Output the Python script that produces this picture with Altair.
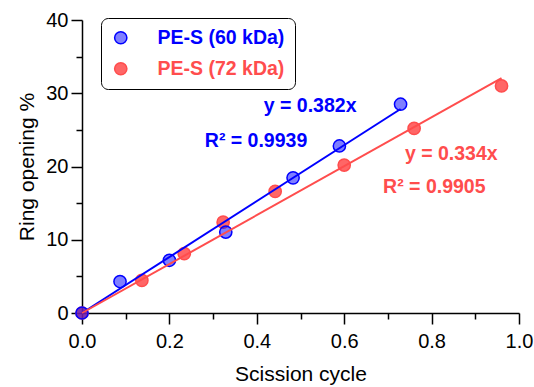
import altair as alt
import pandas as pd

# Series names (legend order)
series_names = ["PE-S (60 kDa)", "PE-S (72 kDa)"]

# Ring opening (%) versus scission cycle
cycles_60 = [0.0, 0.087, 0.200, 0.329, 0.483, 0.589, 0.729]
opening_60 = [0.0, 4.3, 7.2, 11.05, 18.45, 22.8, 28.5]
cycles_72 = [0.0, 0.137, 0.234, 0.323, 0.442, 0.600, 0.760, 0.960]
opening_72 = [0.0, 4.45, 8.1, 12.4, 16.6, 20.2, 25.2, 31.0]

# Linear fits through the origin (y as a fraction), with their R^2
slopes = [0.382, 0.334]
r_squared = [0.9939, 0.9905]

# Axis ticks
x_ticks = [0.0, 0.2, 0.4, 0.6, 0.8, 1.0]
x_minor = [0.1, 0.3, 0.5, 0.7, 0.9]
y_ticks = [0, 10, 20, 30, 40]
y_minor = [5, 15, 25, 35]

# Styling
FONT = "Liberation Sans"
solid = ["#0000ff", "#ff4d4d"]
fills = ["rgba(0,0,255,0.5)", "rgba(255,64,64,0.8)"]

# Where the fit equations sit (data coordinates)
eq_pos = [(0.416, 27.5), (0.739, 20.9)]
r2_pos = [(0.281, 22.6), (0.689, 16.4)]

# ---- tables -------------------------------------------------------------
# 72 kDa rows first so the 60 kDa markers are drawn on top
points = pd.DataFrame({
    "series": [series_names[1]] * len(cycles_72) + [series_names[0]] * len(cycles_60),
    "cycle": cycles_72 + cycles_60,
    "opening": opening_72 + opening_60,
})

fit_rows = []
for name, slope, xs in zip(series_names, slopes, [cycles_60, cycles_72]):
    for xv in (0.0, max(xs)):
        fit_rows.append({"series": name, "cycle": xv, "opening": slope * 100 * xv})
fits = pd.DataFrame(fit_rows)

label_rows = []
for i, name in enumerate(series_names):
    label_rows.append({"series": name, "text": f"y = {slopes[i]}x",
                       "cycle": eq_pos[i][0], "opening": eq_pos[i][1]})
    label_rows.append({"series": name, "text": f"R\u00b2 = {r_squared[i]}",
                       "cycle": r2_pos[i][0], "opening": r2_pos[i][1]})
labels = pd.DataFrame(label_rows)

# ---- scales, axes, legend ----------------------------------------------
x_scale = alt.Scale(domain=[0, 1], nice=False, zero=False)
y_scale = alt.Scale(domain=[0, 40], nice=False, zero=False)

axis_common = dict(
    domainColor="black", domainWidth=1.5, tickColor="black", tickWidth=1.5,
    labelFont=FONT, labelFontSize=20, labelColor="black",
    titleFont=FONT, titleFontSize=21, titleFontWeight="normal", titleColor="black",
    grid=False,
)
x_axis = alt.Axis(values=x_ticks, format=".1f", tickSize=11, labelPadding=7,
                  title="Scission cycle", titlePadding=12, orient="bottom",
                  labelFlush=False, **axis_common)
y_axis = alt.Axis(values=y_ticks, format="d", tickSize=11, labelPadding=3,
                  title="Ring opening %", titlePadding=8, orient="left",
                  labelFlush=False, **axis_common)
x_axis_minor = alt.Axis(values=x_minor, tickSize=6, labels=False, domain=False,
                        title=None, orient="bottom", grid=False,
                        tickColor="black", tickWidth=1.5)
y_axis_minor = alt.Axis(values=y_minor, tickSize=6, labels=False, domain=False,
                        title=None, orient="left", grid=False,
                        tickColor="black", tickWidth=1.5)

legend = alt.Legend(
    title=None, orient="none", legendX=19, legendY=-2,
    strokeColor="black", fillColor="white", cornerRadius=7, padding=10,
    symbolType="circle", symbolSize=150, symbolStrokeWidth=1.5,
    labelFont=FONT, labelFontSize=19.5, labelFontWeight="bold", labelOffset=27,
    labelColor=alt.ExprRef(expr=f"datum.label === '{series_names[0]}' ? '{solid[0]}' : '{solid[1]}'"),
    rowPadding=10,
)

# ---- layers -------------------------------------------------------------
markers = alt.Chart(points).mark_circle(size=150, strokeWidth=1.5, opacity=1).encode(
    x=alt.X("cycle:Q", scale=x_scale, axis=x_axis),
    y=alt.Y("opening:Q", scale=y_scale, axis=y_axis),
    color=alt.Color("series:N", scale=alt.Scale(domain=series_names, range=fills), legend=legend),
    stroke=alt.Stroke("series:N", scale=alt.Scale(domain=series_names, range=solid), legend=legend),
)

fit_lines = alt.Chart(fits).mark_line(strokeWidth=2).encode(
    x=alt.X("cycle:Q", scale=x_scale, axis=x_axis_minor),
    y=alt.Y("opening:Q", scale=y_scale, axis=y_axis_minor),
    stroke=alt.Stroke("series:N", scale=alt.Scale(domain=series_names, range=solid), legend=legend),
    detail="series:N",
)

fit_text = alt.Chart(labels).mark_text(
    align="left", baseline="alphabetic", font=FONT, fontSize=19.5, fontWeight="bold"
).encode(
    x=alt.X("cycle:Q", scale=x_scale, axis=None),
    y=alt.Y("opening:Q", scale=y_scale, axis=None),
    text="text:N",
    fill=alt.Fill("series:N", scale=alt.Scale(domain=series_names, range=solid), legend=None),
)

chart = (
    alt.layer(markers, fit_lines, fit_text)
    .resolve_axis(x="independent", y="independent")
    .properties(
        width=437, height=293,
        padding={"left": 82, "top": 20, "right": 15, "bottom": 74},
        autosize=alt.AutoSizeParams(type="none"),
        background="white",
    )
    .configure_view(stroke=None)
)

chart.save("out.html", embed_options={"renderer": "svg", "actions": False})
